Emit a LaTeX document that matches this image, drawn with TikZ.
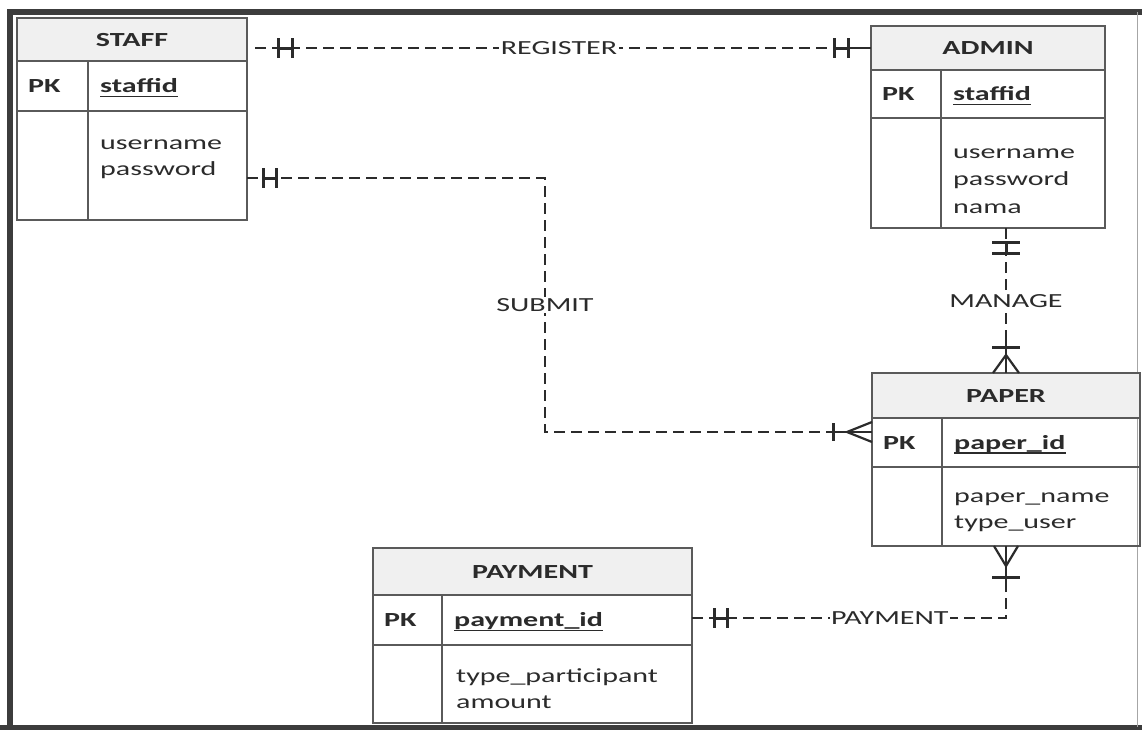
\documentclass[tikz,border=0pt]{standalone}
\usepackage{fontspec}
\setmainfont{Carlito}[FakeStretch=1.5]
\usetikzlibrary{calc}

\definecolor{ink}{HTML}{2B2B2B}
\definecolor{rulec}{HTML}{5A5A5A}
\definecolor{hdrfill}{HTML}{F0F0F0}
\definecolor{framec}{HTML}{3C3C3C}

\tikzset{
  er/.style={font=\fontsize{20}{26}\selectfont, text=ink},
  box/.style={draw=rulec, line width=1.4pt, rectangle, anchor=north west,
    inner sep=0pt, outer sep=0pt},
  hdrbox/.style={box, fill=hdrfill, text=ink,
    font=\fontsize{20}{26}\selectfont\bfseries, text height=13pt, text depth=0pt},
  pktext/.style={text=ink, font=\fontsize{20}{26}\selectfont\bfseries,
    anchor=west, inner sep=0pt, text height=13pt, text depth=0pt},
  keytext/.style={pktext},
  attrtext/.style={er, anchor=north west, align=left, inner sep=0pt},
  keyline/.style={draw=ink, line width=1.6pt},
  rel/.style={draw=ink, line width=2.4pt, dash pattern=on 11pt off 6pt},
  tick/.style={draw=ink, line width=3pt, solid},
  crow/.style={draw=ink, line width=2.2pt, solid},
  lbl/.style={er, fill=white, inner sep=1.5pt, text height=13pt, text depth=0pt}
}

% entity table: name, x, y, width, left column, header h, key row h, body h, title
\newcommand\ertable[9]{%
  \node[hdrbox, minimum width=#4, minimum height=#6] (#1-h) at (#2,#3) {#9};
  \node[box, minimum width=#5, minimum height=#7] (#1-pkl) at (#2,#3+#6) {};
  \node[box, minimum width=#4-#5, minimum height=#7] (#1-pkr) at (#2+#5,#3+#6) {};
  \node[box, minimum width=#5, minimum height=#8] (#1-bl) at (#2,#3+#6+#7) {};
  \node[box, minimum width=#4-#5, minimum height=#8] (#1-br) at (#2+#5,#3+#6+#7) {};
  \node[pktext] (#1-pk) at ([xshift=11pt]#1-pkl.west) {PK};
}
% primary key text, underlined
\newcommand\erkey[2]{%
  \node[keytext] (#1-key) at ([xshift=12pt]#1-pkr.west) {#2};
  \draw[keyline] ([yshift=-4pt]#1-key.base west) -- ([yshift=-4pt]#1-key.base east);
}
% "one and only one" mark across a horizontal line: point, first bar offset, second bar offset
\newcommand\onehoriz[3]{%
  \draw[tick] ([xshift=#2pt]#1) ++(0,-10) -- ++(0,20);
  \draw[tick] ([xshift=#3pt]#1) ++(0,-10) -- ++(0,20);
  \draw[tick] ([xshift=#2pt]#1) -- ([xshift=#3pt]#1);
}

\begin{document}
\begin{tikzpicture}[x=1pt, y=-1pt]
\useasboundingbox (0,0) rectangle (1142,731);
\fill[white] (0,0) rectangle (1142,731);

% outer frame
\draw[framec, line width=6pt] (10,727) -- (10,12) -- (1142,12);
\draw[framec, line width=5pt] (0,727) -- (1142,727);
\draw[black!35, line width=1pt] (1137,12) -- (1137,727);

% entities
\ertable{staff}{17}{18}{230}{71}{43}{50}{109}{STAFF}
\erkey{staff}{staffid}
\node[attrtext] (staff-attr) at ([xshift=12pt,yshift=-20pt]staff-br.north west)
  {\strut username\\password};

\ertable{admin}{871}{26}{234}{70}{44}{48}{110}{ADMIN}
\erkey{admin}{staffid}
\node[attrtext, font=\fontsize{20}{27.5}\selectfont] (admin-attr)
  at ([xshift=12pt,yshift=-21pt]admin-br.north west)
  {\strut username\\password\\nama};

\ertable{paper}{872}{373}{268}{70}{45}{49}{79}{PAPER}
\erkey{paper}{paper\_id}
\node[attrtext] (paper-attr) at ([xshift=12pt,yshift=-17pt]paper-br.north west)
  {\strut paper\_name\\type\_user};

\ertable{payment}{373}{548}{319}{69}{47}{50}{78}{PAYMENT}
\erkey{payment}{payment\_id}
\node[attrtext] (payment-attr) at ([xshift=14pt,yshift=-19pt]payment-br.north west)
  {\strut type\_participant\\amount};

% REGISTER: staff -- admin
\coordinate (reg-a) at (staff-h.east |- admin-h.west);
\draw[rel, shorten <=8pt] (reg-a) -- node[lbl]{REGISTER} (admin-h.west);
\onehoriz{reg-a}{31}{45}
\onehoriz{admin-h.west}{-37}{-23}
\draw[crow] ([xshift=-18pt]admin-h.west) -- (admin-h.west);

% SUBMIT: staff -- paper
\coordinate (sub-a) at ([yshift=-12.5pt]staff-br.east);
\coordinate (sub-b) at ([yshift=10.5pt]paper-pkl.west);
\coordinate (submit-x) at (545,0);
\draw[rel] (sub-a) -- (sub-a -| submit-x) -- node[lbl]{SUBMIT} (submit-x |- sub-b) -- (sub-b);
\onehoriz{sub-a}{16}{29}
\draw[crow] ([xshift=-44pt]sub-b) -- (sub-b);
\draw[tick] ([xshift=-39pt]sub-b) ++(0,-9) -- ++(0,18);
\draw[crow] ([yshift=10pt]sub-b) -- ([xshift=-25pt]sub-b) -- ([yshift=-10pt]sub-b);

% MANAGE: admin -- paper
\coordinate (man-a) at (paper-h.north |- admin-br.south);
\draw[rel] (man-a) -- node[lbl]{MANAGE} (paper-h.north);
\draw[tick] ([yshift=-14pt]man-a) ++(-14,0) -- ++(28,0);
\draw[tick] ([yshift=-25pt]man-a) ++(-14,0) -- ++(28,0);
\draw[tick] ([yshift=-14pt]man-a) -- ([yshift=-25pt]man-a);
\draw[crow] ([yshift=32pt]paper-h.north) -- (paper-h.north);
\draw[tick] ([yshift=26pt]paper-h.north) ++(-14,0) -- ++(28,0);
\draw[crow] ([xshift=-13pt]paper-h.north) -- ([yshift=18pt]paper-h.north) -- ([xshift=13pt]paper-h.north);

% PAYMENT: payment -- paper
\coordinate (pay-a) at ([yshift=2pt]payment-pkr.east);
\coordinate (pay-c) at (paper-h.north |- paper-bl.south);
\draw[rel] (pay-a) -- node[lbl, pos=0.63]{PAYMENT} (pay-a -| pay-c) -- (pay-c);
\onehoriz{pay-a}{22}{35}
\draw[crow] ([yshift=-38pt]pay-c) -- (pay-c);
\draw[tick] ([yshift=-31pt]pay-c) ++(-14,0) -- ++(28,0);
\draw[crow] ([xshift=-12pt]pay-c) -- ([yshift=-20pt]pay-c) -- ([xshift=12pt]pay-c);
\end{tikzpicture}
\end{document}
